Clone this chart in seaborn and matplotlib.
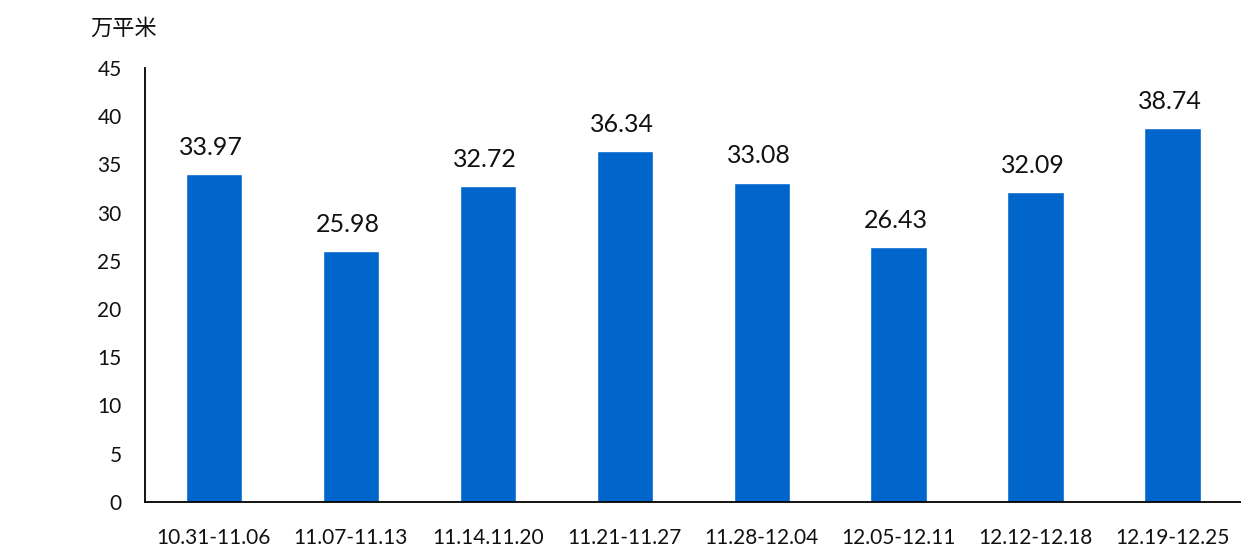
import matplotlib
matplotlib.use("Agg")
import matplotlib.pyplot as plt
import seaborn as sns
import pandas as pd

weeks = ["10.31-11.06", "11.07-11.13", "11.14.11.20", "11.21-11.27",
         "11.28-12.04", "12.05-12.11", "12.12-12.18", "12.19-12.25"]
area = [33.97, 25.98, 32.72, 36.34, 33.08, 26.43, 32.09, 38.74]
y_ticks = [0, 5, 10, 15, 20, 25, 30, 35, 40, 45]

sns.set_style("white")
plt.rcParams["font.family"] = ["Lato", "Noto Sans CJK SC", "DejaVu Sans"]

df = pd.DataFrame({"week": weeks, "area": area})

fig = plt.figure(figsize=(12.41, 5.51), dpi=100)
ax = fig.add_axes([0.117, 0.089, 0.883, 0.788])

sns.barplot(data=df, x="week", y="area", color="#0066CC", width=0.41,
            saturation=1, ax=ax)

for i, v in enumerate(area):
    ax.text(i - 0.02, v + 1.6, f"{v:.2f}", ha="center", va="bottom", fontsize=18, color="#111111")

ax.set_xlim(-0.5, 7.5)
ax.set_ylim(0, 45)
ax.set_yticks(y_ticks)
ax.tick_params(axis="y", direction="in", length=5, width=1.2, labelsize=15, pad=17,
               labelcolor="#111111")
ax.tick_params(axis="x", which="major", length=0, labelsize=15, pad=19,
               labelcolor="#111111")
ax.set_xticks([i + 0.5 for i in range(7)], minor=True)
ax.tick_params(axis="x", which="minor", direction="in", length=5, width=1.2)
ax.set_xlabel(""); ax.set_ylabel("")

for s in ["top", "right"]:
    ax.spines[s].set_visible(False)
for s in ["left", "bottom"]:
    ax.spines[s].set_color("black")
    ax.spines[s].set_linewidth(1.3)

fig.text(0.073, 0.948, "万平米", fontsize=16, ha="left", va="center",
         family=["Noto Sans CJK SC", "DejaVu Sans"], color="#111111")

fig.savefig("out.png", dpi=100)
